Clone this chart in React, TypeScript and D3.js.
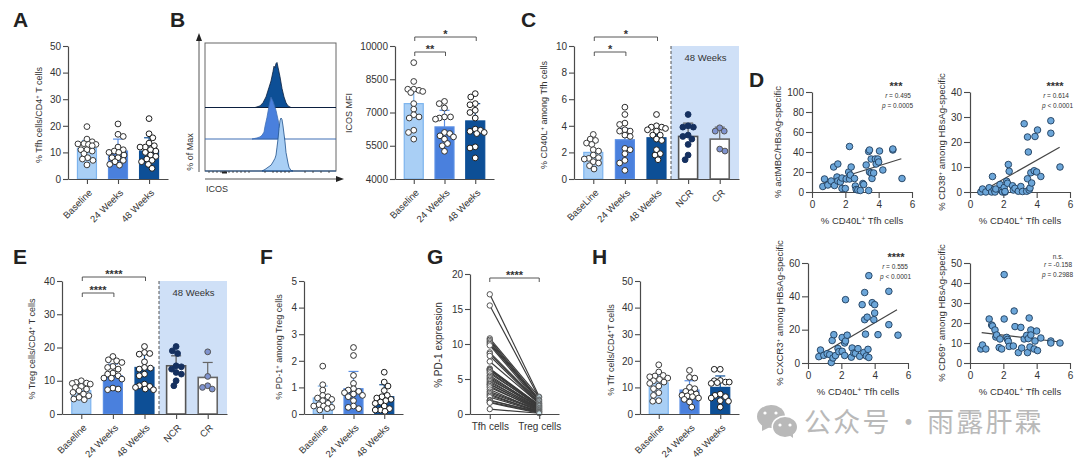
import React, { useEffect, useRef } from "react";
import * as d3 from "d3";

// ---- data ----
const timeCats = ["Baseline", "24 Weeks", "48 Weeks"];
const timeCatsC = ["BaseLine", "24 Weeks", "48 Weeks", "NCR", "CR"];
const timeCatsE = ["Baseline", "24 Weeks", "48 Weeks", "NCR", "CR"];

const tfhBars = [11.5, 10.5, 10.5];
const tfhErr = [14.5, 15, 15.5];
const tfhPts = [
  [19.7, 15, 14, 13.3, 13.2, 13, 13, 12.5, 11, 11, 10.5, 9.5, 8, 7.5, 7, 5.3],
  [20.7, 16.8, 16, 12, 11, 10.5, 10, 10, 9, 8, 8, 7, 6.5, 5.5, 5.2],
  [22.7, 17, 15.5, 13.5, 12.5, 12, 12, 11, 10.5, 10, 9, 8.5, 7.5, 7, 6.5, 5.5, 4],
];

const icosBars = [7400, 6350, 6620];
const icosErr = [7950, 7100, 7400];
const icosPts = [
  [9250, 8400, 8050, 8050, 8000, 7950, 7900, 7400, 7150, 6900, 6800, 6750, 6200, 6100, 5800],
  [7500, 7400, 7200, 6800, 6800, 6750, 6700, 6100, 6050, 5950, 5900, 5800, 5600, 5500, 5250],
  [7850, 7700, 7400, 7350, 7100, 7000, 6750, 6250, 6200, 6150, 6100, 6050, 5450, 5400, 4950],
];

const cd40Bars = [2.0, 2.95, 3.1, 3.2, 3.0];
const cd40Err = [2.75, 3.8, 4.0, 4.2, 3.9];
const cd40Pts = [
  [3.35, 3.0, 2.9, 2.7, 2.6, 2.2, 2.1, 1.8, 1.6, 1.55, 1.5, 1.3, 1.2, 1.0, 0.75],
  [5.4, 4.85, 4.2, 4.1, 3.7, 3.6, 3.6, 3.3, 3.2, 2.3, 2.2, 1.9, 1.4, 1.2, 0.65],
  [4.85, 4, 3.9, 3.9, 3.8, 3.7, 3.6, 3.3, 3.3, 3.0, 2.9, 2.2, 1.9, 1.8, 1.45],
  [4.85, 4.0, 3.9, 3.9, 3.3, 3.2, 3.0, 2.6, 1.8, 1.45],
  [3.85, 3.6, 3.6, 2.25, 2.1],
];

const tregBars = [7, 11.5, 14, 14.5, 11];
const tregErr = [9, 15, 18, 17.5, 15.5];
const tregPts = [
  [10, 9.5, 9.3, 9.2, 9, 8.3, 8, 7.5, 7, 6.5, 6, 5.5, 5, 4.5, 4.3],
  [17.3, 16.3, 16, 15.5, 14.3, 14, 13.5, 12.3, 12, 11.5, 10.8, 10.8, 10.5, 7.8, 7.5, 7.3],
  [20.3, 18.5, 18.2, 18, 15.7, 14, 13.8, 13.5, 12, 11.5, 9, 8.5, 8.3, 8, 7.5, 7.3],
  [20.3, 19, 18.2, 14.5, 14.2, 13.5, 12.5, 12, 10, 8.5],
  [18.7, 11.3, 8.5, 8, 7.5],
];

const pd1Bars = [0.6, 0.95, 0.65];
const pd1Err = [1.05, 1.6, 1.1];
const pd1Pts = [
  [1.8, 1.1, 0.9, 0.7, 0.65, 0.6, 0.55, 0.5, 0.4, 0.35, 0.3, 0.3, 0.25, 0.2, 0.15],
  [2.5, 2.2, 1.45, 1.15, 0.95, 0.9, 0.85, 0.8, 0.75, 0.7, 0.65, 0.5, 0.3, 0.25, 0.2],
  [1.57, 1.2, 1.05, 0.88, 0.7, 0.65, 0.6, 0.55, 0.5, 0.45, 0.4, 0.3, 0.2, 0.15, 0.15, 0.1],
];

const tfrBars = [11.7, 9, 10];
const tfrErr = [15, 12.5, 14.3];
const tfrPts = [
  [18.5, 15.8, 14.5, 14.3, 14, 13.5, 13, 12.5, 12, 11.5, 10.5, 9.5, 8, 7, 5, 4.8],
  [16.4, 13.8, 13.5, 10, 9.5, 8.5, 8, 7.5, 7, 6.8, 6.5, 6, 5.5, 4.5, 2.6],
  [16.8, 16.8, 12.6, 12.5, 12, 12, 11.8, 11.5, 7.5, 7, 6.5, 6, 5, 4.8, 2.6],
];

const pairCats = ["Tfh cells", "Treg cells"];
const pd1Tfh = [17.1, 15.5, 10.8, 10.6, 10.4, 10.2, 10, 9.8, 8.8, 8.6, 8.3, 7.5, 6.5, 6.4, 6.3, 6.2, 6, 5.8, 5.5, 5.3, 5.1, 4.9, 4.7, 4.5, 4.3, 4.2, 4, 3.8, 3.5, 3.2, 3, 2.8, 2.6, 2.4, 2, 1.9, 1.7, 1.6, 0.7];
const pd1Treg = [2.5, 2.3, 2.4, 2.1, 2, 1.8, 1.9, 1.6, 1.7, 1.5, 1.4, 1.5, 1.3, 1.2, 1.1, 1.3, 1, 1.2, 0.9, 1, 0.8, 1.1, 0.7, 0.9, 0.6, 0.8, 0.5, 0.7, 0.4, 0.6, 0.5, 0.3, 0.4, 0.3, 0.2, 0.3, 0.2, 0.1, 0.1];

// scatter panels (x = % CD40L+ Tfh cells)
const actX = [0.65, 0.75, 0.95, 1.15, 1.3, 1.35, 1.5, 1.55, 1.55, 1.7, 1.8, 1.8, 2.0, 2.05, 2.2, 2.25, 2.25, 2.3, 2.35, 2.55, 2.6, 2.65, 2.75, 2.9, 3.05, 3.1, 3.25, 3.4, 3.4, 3.45, 3.45, 3.55, 3.55, 3.6, 3.7, 3.8, 3.85, 3.95, 4.0, 4.05, 4.25, 4.85, 4.85, 5.4];
const actY = [5.5, 13, 7, 11, 25, 6.5, 15, 11, 28, 10, 14, 3.5, 3.5, 13, 20, 13, 45.5, 17, 25, 13.5, 6, 2.5, 2, 1.5, 8.5, 7.5, 27, 1.5, 40.5, 42, 20, 19, 33, 13.5, 19, 33, 28, 33, 30, 41, 22, 42, 43, 13.5];
const cd38X = [0.65, 0.75, 0.95, 1.15, 1.3, 1.35, 1.45, 1.5, 1.55, 1.8, 1.9, 1.95, 2.05, 2.1, 2.1, 2.2, 2.25, 2.3, 2.35, 2.55, 2.6, 2.7, 2.9, 3.05, 3.15, 3.25, 3.4, 3.45, 3.45, 3.5, 3.55, 3.6, 3.65, 3.7, 3.85, 3.9, 4.0, 4.05, 4.25, 4.85, 4.85, 5.4];
const cd38Y = [0, 1.2, 0, 1.7, 0, 6.2, 1, 0, 1.2, 3, 0.6, 0, 1.8, 0, 0.2, 4.3, 3.5, 11, 8.3, 2.5, 0.8, 1.5, 0.3, 2.2, 0.2, 27.3, 0.3, 22, 5.3, 16, 0.8, 1.6, 7.7, 3.6, 8.5, 22.2, 8, 24.8, 6.2, 28.5, 23.5, 10];
const cxcr3X = [0.65, 0.75, 0.95, 1.15, 1.3, 1.4, 1.45, 1.5, 1.55, 1.65, 1.8, 1.85, 2.05, 2.05, 2.2, 2.2, 2.25, 2.25, 2.35, 2.6, 2.65, 2.75, 2.85, 3.0, 3.1, 3.25, 3.35, 3.4, 3.4, 3.45, 3.5, 3.55, 3.6, 3.65, 3.65, 3.85, 3.95, 4.0, 4.0, 4.2, 4.85, 4.85, 5.4];
const cxcr3Y = [3.8, 7.8, 4.6, 5.6, 5, 0.3, 13.5, 3, 17, 4.5, 8.7, 6.8, 15.3, 7, 4.5, 12, 13.2, 38, 16.7, 3.5, 9, 6, 5.8, 8.6, 4, 35, 6.3, 42.3, 26, 17.3, 4.2, 27.5, 8.2, 3.3, 52.4, 36.2, 26, 30, 35, 17, 43, 23, 16.7];
const cd69X = [0.65, 0.75, 0.95, 1.15, 1.3, 1.35, 1.5, 1.55, 1.6, 1.75, 1.8, 1.9, 2.05, 2.05, 2.2, 2.25, 2.3, 2.35, 2.6, 2.65, 2.7, 2.9, 3.05, 3.1, 3.25, 3.4, 3.45, 3.5, 3.55, 3.6, 3.65, 3.65, 3.85, 3.9, 4.0, 4.05, 4.25, 4.85, 4.85, 5.4];
const cd69Y = [7, 9, 7, 22, 19, 18.5, 16.5, 13, 14, 7.7, 12, 7, 22, 44.2, 12.8, 11.8, 10.8, 8.3, 8.5, 26, 18.2, 5.2, 17.8, 7.5, 12, 13.8, 5.2, 12.2, 22.5, 8, 16.5, 14, 7, 11, 16, 6.2, 12.5, 11, 10, 10];

// flow histograms: ICOS channel vs. % of max
const histDarkCh = [50, 55, 58, 61, 64, 66, 68, 69, 70, 71, 72, 73, 75, 77, 79, 81, 83, 86];
const histDarkVal = [0, 3, 9, 20, 38, 50, 68, 78, 75, 83, 85, 76, 58, 36, 20, 9, 3, 0];
const histMidCh = [47, 52, 55, 57, 59, 60, 62, 64, 66, 68, 71, 74, 77, 80];
const histMidVal = [0, 2, 4, 7, 13, 24, 41, 62, 79, 71, 54, 28, 8, 0];
const histLightCh = [57, 60, 63, 66, 68, 70, 71, 72, 73, 74, 75, 76, 77, 78, 80, 81, 83, 84, 86, 88];
const histLightVal = [0, 3, 7, 11, 17, 24, 30, 45, 60, 80, 95, 100, 97, 85, 55, 35, 15, 7, 1, 0];
const flowTicks = [4, 8, 12, 16, 20, 24, 28, 32, 36, 40, 44, 60, 68, 72, 76, 80, 84, 100, 108, 116, 124];

// ---- styles and layout ----
const TEXT = "#333";
const AXIS = "#4a4a4a";
const FONT = "'Liberation Sans', Arial, sans-serif";
const LIGHT = { fill: "#a9cff5", stroke: "#7db4ee", point: "#fff", pointStroke: "#3a3a3a", sw: 1.2 };
const MID = { fill: "#4a80dd", stroke: "#5b8fe4", point: "#fff", pointStroke: "#2f2f2f", sw: 1.2 };
const DARK = { fill: "#0d4f96", stroke: "#0d4f96", point: "#fff", pointStroke: "#1c1c1c", sw: 1.2 };
const NCR = { fill: "#fff", stroke: "#555", point: "#15305f", pointStroke: "#15305f", sw: 1.6 };
const CR = { fill: "#fff", stroke: "#666", point: "#7f93cf", pointStroke: "#555", sw: 1.6 };
const THREE = [LIGHT, MID, DARK];
const FIVE = [LIGHT, MID, DARK, NCR, CR];

type Sel = d3.Selection<any, any, any, any>;

function ylabel(g: Sel, x: number, cy: number, parts: string[], size = 9) {
  const t = g.append("text")
    .attr("transform", `translate(${x},${cy}) rotate(-90)`)
    .attr("text-anchor", "middle")
    .attr("font-size", size)
    .attr("fill", TEXT);
  t.append("tspan").text(parts[0]);
  if (parts.length > 1) {
    t.append("tspan").attr("dy", -3).attr("font-size", size * 0.65).text(parts[1]);
    t.append("tspan").attr("dy", 3).text(parts[2]);
  }
}

function letter(g: Sel, s: string, x: number, y: number) {
  g.append("text").attr("x", x).attr("y", y).attr("font-size", 21)
    .attr("font-weight", "bold").attr("fill", "#222").text(s);
}

// simple beeswarm, kept inside the bar width; points may touch when it gets crowded
function swarm(vals: number[], y: (v: number) => number, dist = 5.3, maxDx = 9) {
  const placed: { x: number; y: number }[] = [];
  [...vals].sort((a, b) => b - a).forEach((v, i) => {
    const py = y(v);
    const side = i % 2 === 0 ? 1 : -1;
    let best = 0;
    let bestGap = -1;
    for (let k = 0; k * 0.75 <= maxDx; k++) {
      for (const s of [side, -side]) {
        const dx = k * 0.75 * s;
        const gap = placed.length ? Math.min(...placed.map((p) => Math.hypot(p.x - dx, p.y - py))) : 99;
        if (gap >= dist && bestGap < dist) {
          best = dx;
          bestGap = gap;
        } else if (bestGap < dist && gap > bestGap) {
          best = dx;
          bestGap = gap;
        }
      }
    }
    placed.push({ x: best, y: py });
  });
  return placed;
}

function styleAxis(a: Sel) {
  a.attr("font-family", FONT).attr("font-size", 10);
  a.selectAll("path").attr("stroke", AXIS).attr("stroke-width", 1.2);
  a.selectAll("line").attr("stroke", AXIS).attr("stroke-width", 1.1);
  a.selectAll("text").attr("fill", TEXT);
}

function bracket(g: Sel, x1: number, x2: number, y: number, label: string) {
  g.append("path")
    .attr("d", `M${x1},${y + 4}V${y}H${x2}V${y + 4}`)
    .attr("fill", "none").attr("stroke", "#444").attr("stroke-width", 0.9);
  g.append("text").attr("x", (x1 + x2) / 2).attr("y", y + 0.5)
    .attr("text-anchor", "middle").attr("font-size", 11).attr("font-weight", "bold")
    .attr("fill", "#333").text(label);
}

function barPanel(svg: Sel, o: any) {
  const g = svg.append("g");
  const y = d3.scaleLinear().domain(o.domain).range([o.bottom, o.top]);
  const x = d3.scalePoint<string>().domain(o.cats).range([o.left, o.right]).padding(0.61);
  if (o.shadeFrom) {
    g.append("rect").attr("x", o.shadeFrom).attr("y", o.top)
      .attr("width", o.right - o.shadeFrom).attr("height", o.bottom - o.top).attr("fill", "#cfe0f7");
    g.append("line").attr("x1", o.shadeFrom).attr("x2", o.shadeFrom).attr("y1", o.top).attr("y2", o.bottom)
      .attr("stroke", "#555").attr("stroke-width", 1).attr("stroke-dasharray", "3,2");
    g.append("text").attr("x", (o.shadeFrom + o.right) / 2 + 0.5).attr("y", o.top + 15)
      .attr("text-anchor", "middle").attr("font-size", 9.5).attr("fill", TEXT).text("48 Weeks");
  }
  o.cats.forEach((c: string, i: number) => {
    const cx = x(c) as number;
    const st = o.colors[i];
    g.append("line").attr("x1", cx).attr("x2", cx).attr("y1", y(o.bars[i])).attr("y2", y(o.err[i]))
      .attr("stroke", st.stroke).attr("stroke-width", 1.2);
    g.append("line").attr("x1", cx - 5).attr("x2", cx + 5).attr("y1", y(o.err[i])).attr("y2", y(o.err[i]))
      .attr("stroke", st.stroke).attr("stroke-width", 1.2);
    g.append("rect").attr("x", cx - 9.5).attr("y", y(o.bars[i])).attr("width", 19)
      .attr("height", o.bottom - y(o.bars[i])).attr("fill", st.fill).attr("stroke", st.stroke).attr("stroke-width", st.sw);
    g.selectAll(null).data(swarm(o.pts[i], y)).join("circle")
      .attr("cx", (d: any) => cx + d.x).attr("cy", (d: any) => d.y).attr("r", 2.9)
      .attr("fill", st.point).attr("stroke", st.pointStroke).attr("stroke-width", 1);
  });
  const ya = g.append("g").attr("transform", `translate(${o.left},0)`)
    .call(d3.axisLeft(y).tickValues(o.ticks).tickFormat(d3.format("d") as any).tickSize(5).tickSizeOuter(0).tickPadding(2));
  styleAxis(ya);
  const xa = g.append("g").attr("transform", `translate(0,${o.bottom})`)
    .call(d3.axisBottom(x).tickSize(5).tickSizeOuter(0));
  styleAxis(xa);
  xa.selectAll("text")
    .attr("text-anchor", "end").attr("font-size", 9.5).attr("y", 0).attr("dy", "0.35em")
    .attr("transform", "translate(3,12) rotate(-45)");
  (o.brackets || []).forEach((b: any) => bracket(g, (x(b[0]) as number) + 1, (x(b[1]) as number) + 1, b[2], b[3]));
  ylabel(g, o.labelX, o.labelY, o.label, 9);
}

function scatterPanel(svg: Sel, o: any) {
  const g = svg.append("g");
  const x = d3.scaleLinear().domain([0, 6]).range([o.left, o.left + 100]);
  const y = d3.scaleLinear().domain([0, o.yMax]).range([o.bottom, o.bottom - 100]);
  const ya = g.append("g").attr("transform", `translate(${o.left},0)`)
    .call(d3.axisLeft(y).tickValues(o.ticks).tickFormat(d3.format("d") as any).tickSize(6).tickSizeOuter(0).tickPadding(2));
  styleAxis(ya);
  const xa = g.append("g").attr("transform", `translate(0,${o.bottom})`)
    .call(d3.axisBottom(x).tickValues([0, 2, 4, 6]).tickFormat(d3.format("d") as any).tickSize(6).tickSizeOuter(0).tickPadding(3));
  styleAxis(xa);
  g.append("path").attr("d", d3.line()(o.fit.map((p: number[]) => [x(p[0]), y(p[1])])))
    .attr("stroke", "#444").attr("stroke-width", 1.2).attr("fill", "none");
  g.selectAll(null).data(o.xs).join("circle")
    .attr("cx", (d: any) => x(d)).attr("cy", (_: any, i: number) => y(o.ys[i])).attr("r", 3.3)
    .attr("fill", "#6ca6d9").attr("stroke", "#1f3d5c").attr("stroke-width", 0.9);
  const xl = g.append("text").attr("x", o.left + 50).attr("y", o.bottom + 32)
    .attr("text-anchor", "middle").attr("font-size", 9.5).attr("fill", TEXT);
  xl.append("tspan").text("% CD40L");
  xl.append("tspan").attr("dy", -3).attr("font-size", 6.5).text("+");
  xl.append("tspan").attr("dy", 3).text(" Tfh cells");
  ylabel(g, o.labelX, o.labelY, o.label, 9.5);
  g.append("text").attr("x", o.starX).attr("y", o.starY).attr("text-anchor", "middle")
    .attr("font-size", o.sig === "n.s." ? 6.5 : 11).attr("font-weight", o.sig === "n.s." ? "normal" : "bold")
    .attr("fill", "#333").text(o.sig);
  const stat = (xr: number, yb: number, k: string, rest: string) => {
    const t = g.append("text").attr("x", xr).attr("y", yb).attr("text-anchor", "end")
      .attr("font-size", 6.5).attr("fill", "#333");
    t.append("tspan").attr("font-style", "italic").text(k);
    t.append("tspan").text(rest);
  };
  stat(o.rX, o.starY + 8, "r", o.r);
  stat(o.pX, o.starY + 18, "p", o.p);
}

function flowPanel(svg: Sel) {
  const g = svg.append("g");
  const left = 205, right = 336, top = 43, bottom = 171;
  const x = d3.scaleLinear().domain([0, 131]).range([left, right]);
  const h = d3.scaleLinear().domain([0, 100]).range([0, 53]);
  const rows = [
    { ch: histDarkCh, v: histDarkVal, base: 107.5, fill: "#0d4f96", line: "#0b1f3f" },
    { ch: histMidCh, v: histMidVal, base: 139, fill: "#4a80dd", line: "#3f6fb5" },
    { ch: histLightCh, v: histLightVal, base: 171, fill: "#a9cff5", line: "#1d4f8a" },
  ];
  g.append("rect").attr("x", left).attr("y", top).attr("width", right - left).attr("height", bottom - top)
    .attr("fill", "#fff").attr("stroke", "#666").attr("stroke-width", 1);
  rows.forEach((r) => {
    const area = d3.area<number>()
      .x((d) => x(d))
      .y0(r.base)
      .y1((_, i) => r.base - h(r.v[i]));
    g.append("path").attr("d", area(r.ch)).attr("fill", r.fill).attr("stroke", r.line).attr("stroke-width", 0.8);
    g.append("line").attr("x1", left).attr("x2", right).attr("y1", r.base).attr("y2", r.base)
      .attr("stroke", r.line).attr("stroke-width", 1);
  });
  g.selectAll(null).data(flowTicks).join("line")
    .attr("x1", (d: any) => x(d)).attr("x2", (d: any) => x(d)).attr("y1", bottom).attr("y2", bottom + 2)
    .attr("stroke", "#333").attr("stroke-width", 0.8);
  g.append("path").attr("d", `M${left - 6},172V38M${left},179H340`).attr("stroke", "#555").attr("stroke-width", 1).attr("fill", "none");
  g.append("path").attr("d", `M${left - 6},33l-3,8h6zM344,179l-8,-3v6z`).attr("fill", "#222");
  g.append("path").attr("d", `M222,171.5h5v2h-5z`).attr("fill", "#222");
  g.append("text").attr("x", 206).attr("y", 192).attr("font-size", 9).attr("fill", TEXT).text("ICOS");
  ylabel(g, 193, 152, ["% of Max"], 9);
}

function pairedPanel(svg: Sel) {
  const g = svg.append("g");
  const y = d3.scaleLinear().domain([0, 20]).range([414, 274]);
  const x = d3.scalePoint<string>().domain(pairCats).range([470, 559]).padding(0.4);
  const x0 = x(pairCats[0]) as number;
  const x1 = x(pairCats[1]) as number;
  g.selectAll(null).data(pd1Tfh).join("line")
    .attr("x1", x0).attr("x2", x1)
    .attr("y1", (d: any) => y(d)).attr("y2", (_: any, i: number) => y(pd1Treg[i]))
    .attr("stroke", "#3a3a3a").attr("stroke-width", 1.15);
  g.selectAll(null).data(pd1Tfh).join("circle")
    .attr("cx", x0).attr("cy", (d: any) => y(d)).attr("r", 2.7)
    .attr("fill", "#fff").attr("stroke", "#444").attr("stroke-width", 0.9);
  g.selectAll(null).data(pd1Treg).join("circle")
    .attr("cx", x1).attr("cy", (d: any) => y(d)).attr("r", 2.5)
    .attr("fill", "#cfe6ee").attr("stroke", "#555").attr("stroke-width", 0.8);
  const ya = g.append("g").attr("transform", "translate(470,0)")
    .call(d3.axisLeft(y).tickValues([0, 5, 10, 15, 20]).tickSize(5).tickSizeOuter(0).tickPadding(2));
  styleAxis(ya);
  const xa = g.append("g").attr("transform", "translate(0,414)")
    .call(d3.axisBottom(x).tickSize(5).tickSizeOuter(0).tickPadding(4));
  styleAxis(xa);
  bracket(g, x0, x1, 278, "****");
  ylabel(g, 441.5, 345, ["% PD-1 expression"], 10);
}

function watermark(svg: Sel) {
  const g = svg.append("g");
  const c = "#b9b9b9";
  g.append("ellipse").attr("cx", 771).attr("cy", 416.5).attr("rx", 14).attr("ry", 11.5).attr("fill", c);
  g.append("path").attr("d", "M762,424l0,7l8,-4z").attr("fill", c);
  g.append("ellipse").attr("cx", 785).attr("cy", 427).attr("rx", 13.5).attr("ry", 11.5).attr("fill", "#fff");
  g.append("ellipse").attr("cx", 785).attr("cy", 427).attr("rx", 12).attr("ry", 10).attr("fill", c);
  g.append("path").attr("d", "M789,435l4,3l0,-6z").attr("fill", c);
  [[765, 413], [776, 413], [780, 425], [790, 425]].forEach((p) =>
    g.append("circle").attr("cx", p[0]).attr("cy", p[1]).attr("r", 1.6).attr("fill", "#fff"));
  const cjk = (x: number, s: string) =>
    g.append("text").attr("x", x).attr("y", 432).attr("font-family", "'Noto Sans CJK SC'")
      .attr("font-size", 27).attr("letter-spacing", 2.2).attr("fill", c).text(s);
  cjk(804, "公众号");
  cjk(895, "·");
  cjk(927, "雨露肝霖");
}

export default function App() {
  const ref = useRef<SVGSVGElement>(null);

  useEffect(() => {
    const svg = d3.select(ref.current);
    svg.selectAll("*").remove();
    svg.attr("font-family", FONT);

    [["A", 13, 27], ["B", 170, 27], ["C", 521, 27], ["D", 749, 87], ["E", 13, 264], ["F", 260, 264], ["G", 427, 264], ["H", 592, 264]]
      .forEach((l: any) => letter(svg, l[0], l[1], l[2]));

    barPanel(svg, {
      cats: timeCats, bars: tfhBars, err: tfhErr, pts: tfhPts, colors: THREE,
      domain: [0, 50], ticks: [0, 10, 20, 30, 40, 50], left: 68, right: 168, top: 46, bottom: 179,
      label: ["% Tfh cells/CD4", "+", " T cells"], labelX: 42, labelY: 115,
    });
    flowPanel(svg);
    barPanel(svg, {
      cats: timeCats, bars: icosBars, err: icosErr, pts: icosPts, colors: THREE,
      domain: [4000, 10000], ticks: [4000, 5500, 7000, 8500, 10000], left: 395, right: 494, top: 46, bottom: 179,
      label: ["ICOS MFI"], labelX: 352, labelY: 113,
      brackets: [["Baseline", "48 Weeks", 37, "*"], ["Baseline", "24 Weeks", 52, "**"]],
    });
    barPanel(svg, {
      cats: timeCatsC, bars: cd40Bars, err: cd40Err, pts: cd40Pts, colors: FIVE,
      domain: [0, 10], ticks: [0, 2, 4, 6, 8, 10], left: 574, right: 739, top: 46, bottom: 179, shadeFrom: 671,
      label: ["% CD40L", "+", " among Tfh cells"], labelX: 547, labelY: 115,
      brackets: [["BaseLine", "48 Weeks", 37, "*"], ["BaseLine", "24 Weeks", 52, "*"]],
    });
    barPanel(svg, {
      cats: timeCatsE, bars: tregBars, err: tregErr, pts: tregPts, colors: FIVE,
      domain: [0, 40], ticks: [0, 10, 20, 30, 40], left: 62, right: 227, top: 281, bottom: 414, shadeFrom: 159,
      label: ["% Treg cells/CD4", "+", " T cells"], labelX: 35, labelY: 349,
      brackets: [["Baseline", "48 Weeks", 277, "****"], ["Baseline", "24 Weeks", 293, "****"]],
    });
    barPanel(svg, {
      cats: timeCats, bars: pd1Bars, err: pd1Err, pts: pd1Pts, colors: THREE,
      domain: [0, 5], ticks: [0, 1, 2, 3, 4, 5], left: 304, right: 403, top: 281, bottom: 414,
      label: ["% PD-1", "+", " among Treg cells"], labelX: 282, labelY: 347,
    });
    pairedPanel(svg);
    barPanel(svg, {
      cats: timeCats, bars: tfrBars, err: tfrErr, pts: tfrPts, colors: THREE,
      domain: [0, 50], ticks: [0, 10, 20, 30, 40, 50], left: 640, right: 739, top: 281, bottom: 414,
      label: ["% Tfr cells/CD4", "+", "T cells"], labelX: 614, labelY: 350,
    });

    scatterPanel(svg, {
      xs: actX, ys: actY, yMax: 100, ticks: [0, 20, 40, 60, 80, 100], left: 812, bottom: 192,
      fit: [[0.65, 8.7], [5.36, 33.3]], label: ["% actMBC/HBsAg-specific"], labelX: 781, labelY: 142,
      sig: "***", r: " = 0.495", p: " = 0.0005", starX: 896, starY: 90, rX: 911, pX: 913,
    });
    scatterPanel(svg, {
      xs: cd38X, ys: cd38Y, yMax: 40, ticks: [0, 10, 20, 30, 40], left: 970, bottom: 192,
      fit: [[0.65, 0], [5.38, 17.9]], label: ["% CD38", "+", " among HBsAg-specific"], labelX: 945, labelY: 142,
      sig: "****", r: " = 0.614", p: " < 0.0001", starX: 1055, starY: 90, rX: 1069, pX: 1073,
    });
    scatterPanel(svg, {
      xs: cxcr3X, ys: cxcr3Y, yMax: 60, ticks: [0, 20, 40, 60], left: 808, bottom: 363,
      fit: [[0.65, 4.5], [5.34, 32]], label: ["% CXCR3", "+", " among HBsAg-specific"], labelX: 783, labelY: 313,
      sig: "****", r: " = 0.555", p: " < 0.0001", starX: 896, starY: 261, rX: 908, pX: 911,
    });
    scatterPanel(svg, {
      xs: cd69X, ys: cd69Y, yMax: 50, ticks: [0, 10, 20, 30, 40, 50], left: 970, bottom: 363,
      fit: [[0.7, 15.2], [5.4, 10.5]], label: ["% CD69", "+", " among HBsAg-specific"], labelX: 945, labelY: 313,
      sig: "n.s.", r: " = -0.158", p: " = 0.2988", starX: 1058, starY: 259, rX: 1072, pX: 1073,
    });

    watermark(svg);
  }, []);

  return (
    <svg ref={ref} width={1080} height={465} style={{ position: "absolute", left: 0, top: 0, background: "#fff" }} />
  );
}
